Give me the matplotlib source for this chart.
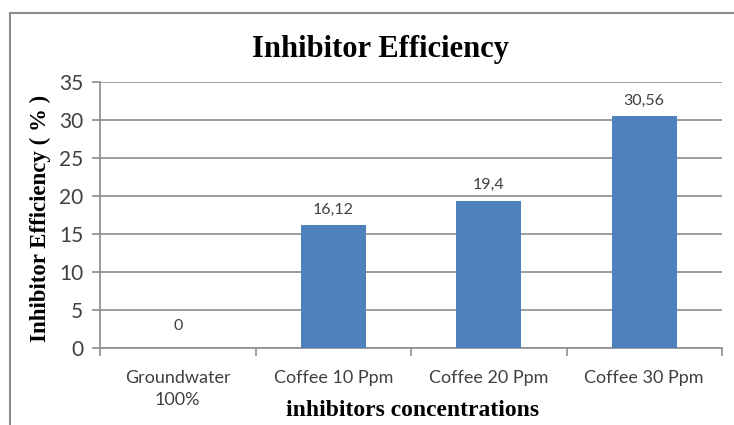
import matplotlib.pyplot as plt
from matplotlib.patches import Rectangle
import numpy as np

categories = ["Groundwater\n100%", "Coffee 10 Ppm", "Coffee 20 Ppm", "Coffee 30 Ppm"]
values = [0, 16.12, 19.4, 30.56]
value_labels = ["0", "16,12", "19,4", "30,56"]
yticks = [0, 5, 10, 15, 20, 25, 30, 35]

grid_col = "#8c8c8c"
text_col = "#404040"

fig = plt.figure(figsize=(7.34, 4.25), dpi=100)
ax = fig.add_axes([100 / 734, 1 - 348 / 425, 622 / 734, 266 / 425])

x = np.arange(len(categories))
ax.bar(x, values, width=0.42, color="#4F81BD", zorder=3)

ax.set_xlim(-0.5, len(categories) - 0.5)
ax.set_ylim(0, 35)
ax.set_yticks(yticks)
ax.set_yticklabels([str(t) for t in yticks], family="Lato", fontsize=15, color=text_col)
ax.yaxis.grid(True, color=grid_col, lw=1.2, zorder=0)

ax.set_xticks(x)
ax.set_xticklabels(categories, family="Lato", fontsize=13, color=text_col, linespacing=1.45)
ax.set_xticks(np.arange(len(categories) + 1) - 0.5, minor=True)
ax.tick_params(axis="x", which="major", length=0, pad=16)
ax.tick_params(axis="x", which="minor", length=6, color=grid_col, width=1.2)
ax.tick_params(axis="y", length=6, color=grid_col, width=1.2, pad=6)

for s in ["top", "right"]:
    ax.spines[s].set_visible(False)
for s in ["left", "bottom"]:
    ax.spines[s].set_color(grid_col)
    ax.spines[s].set_linewidth(1.2)

for xi, v, lab in zip(x, values, value_labels):
    off = 11 if v == 0 else 6
    ax.annotate(lab, (xi, v), xytext=(0, off), textcoords="offset points",
                ha="center", va="bottom", family="Lato", fontsize=11.5, color=text_col)

fig.text(380 / 734, 1 - 50 / 425, "Inhibitor Efficiency",
         ha="center", va="center", family="Liberation Serif", fontweight="bold", fontsize=22)
fig.text(40 / 734, 1 - 218 / 425, "Inhibitor Efficiency ( % )", rotation=90,
         ha="center", va="center", family="Liberation Serif", fontweight="bold", fontsize=16.5)
fig.text(413 / 734, 1 - 411 / 425, "inhibitors concentrations",
         ha="center", va="center", family="Liberation Serif", fontweight="bold", fontsize=17)

fig.patches.append(Rectangle((10 / 734, -0.1), 1.2, 1 - 13 / 425 + 0.1, transform=fig.transFigure,
                             fill=False, edgecolor="#8c8c8c", lw=1.5))

fig.savefig("out.png", dpi=100)
